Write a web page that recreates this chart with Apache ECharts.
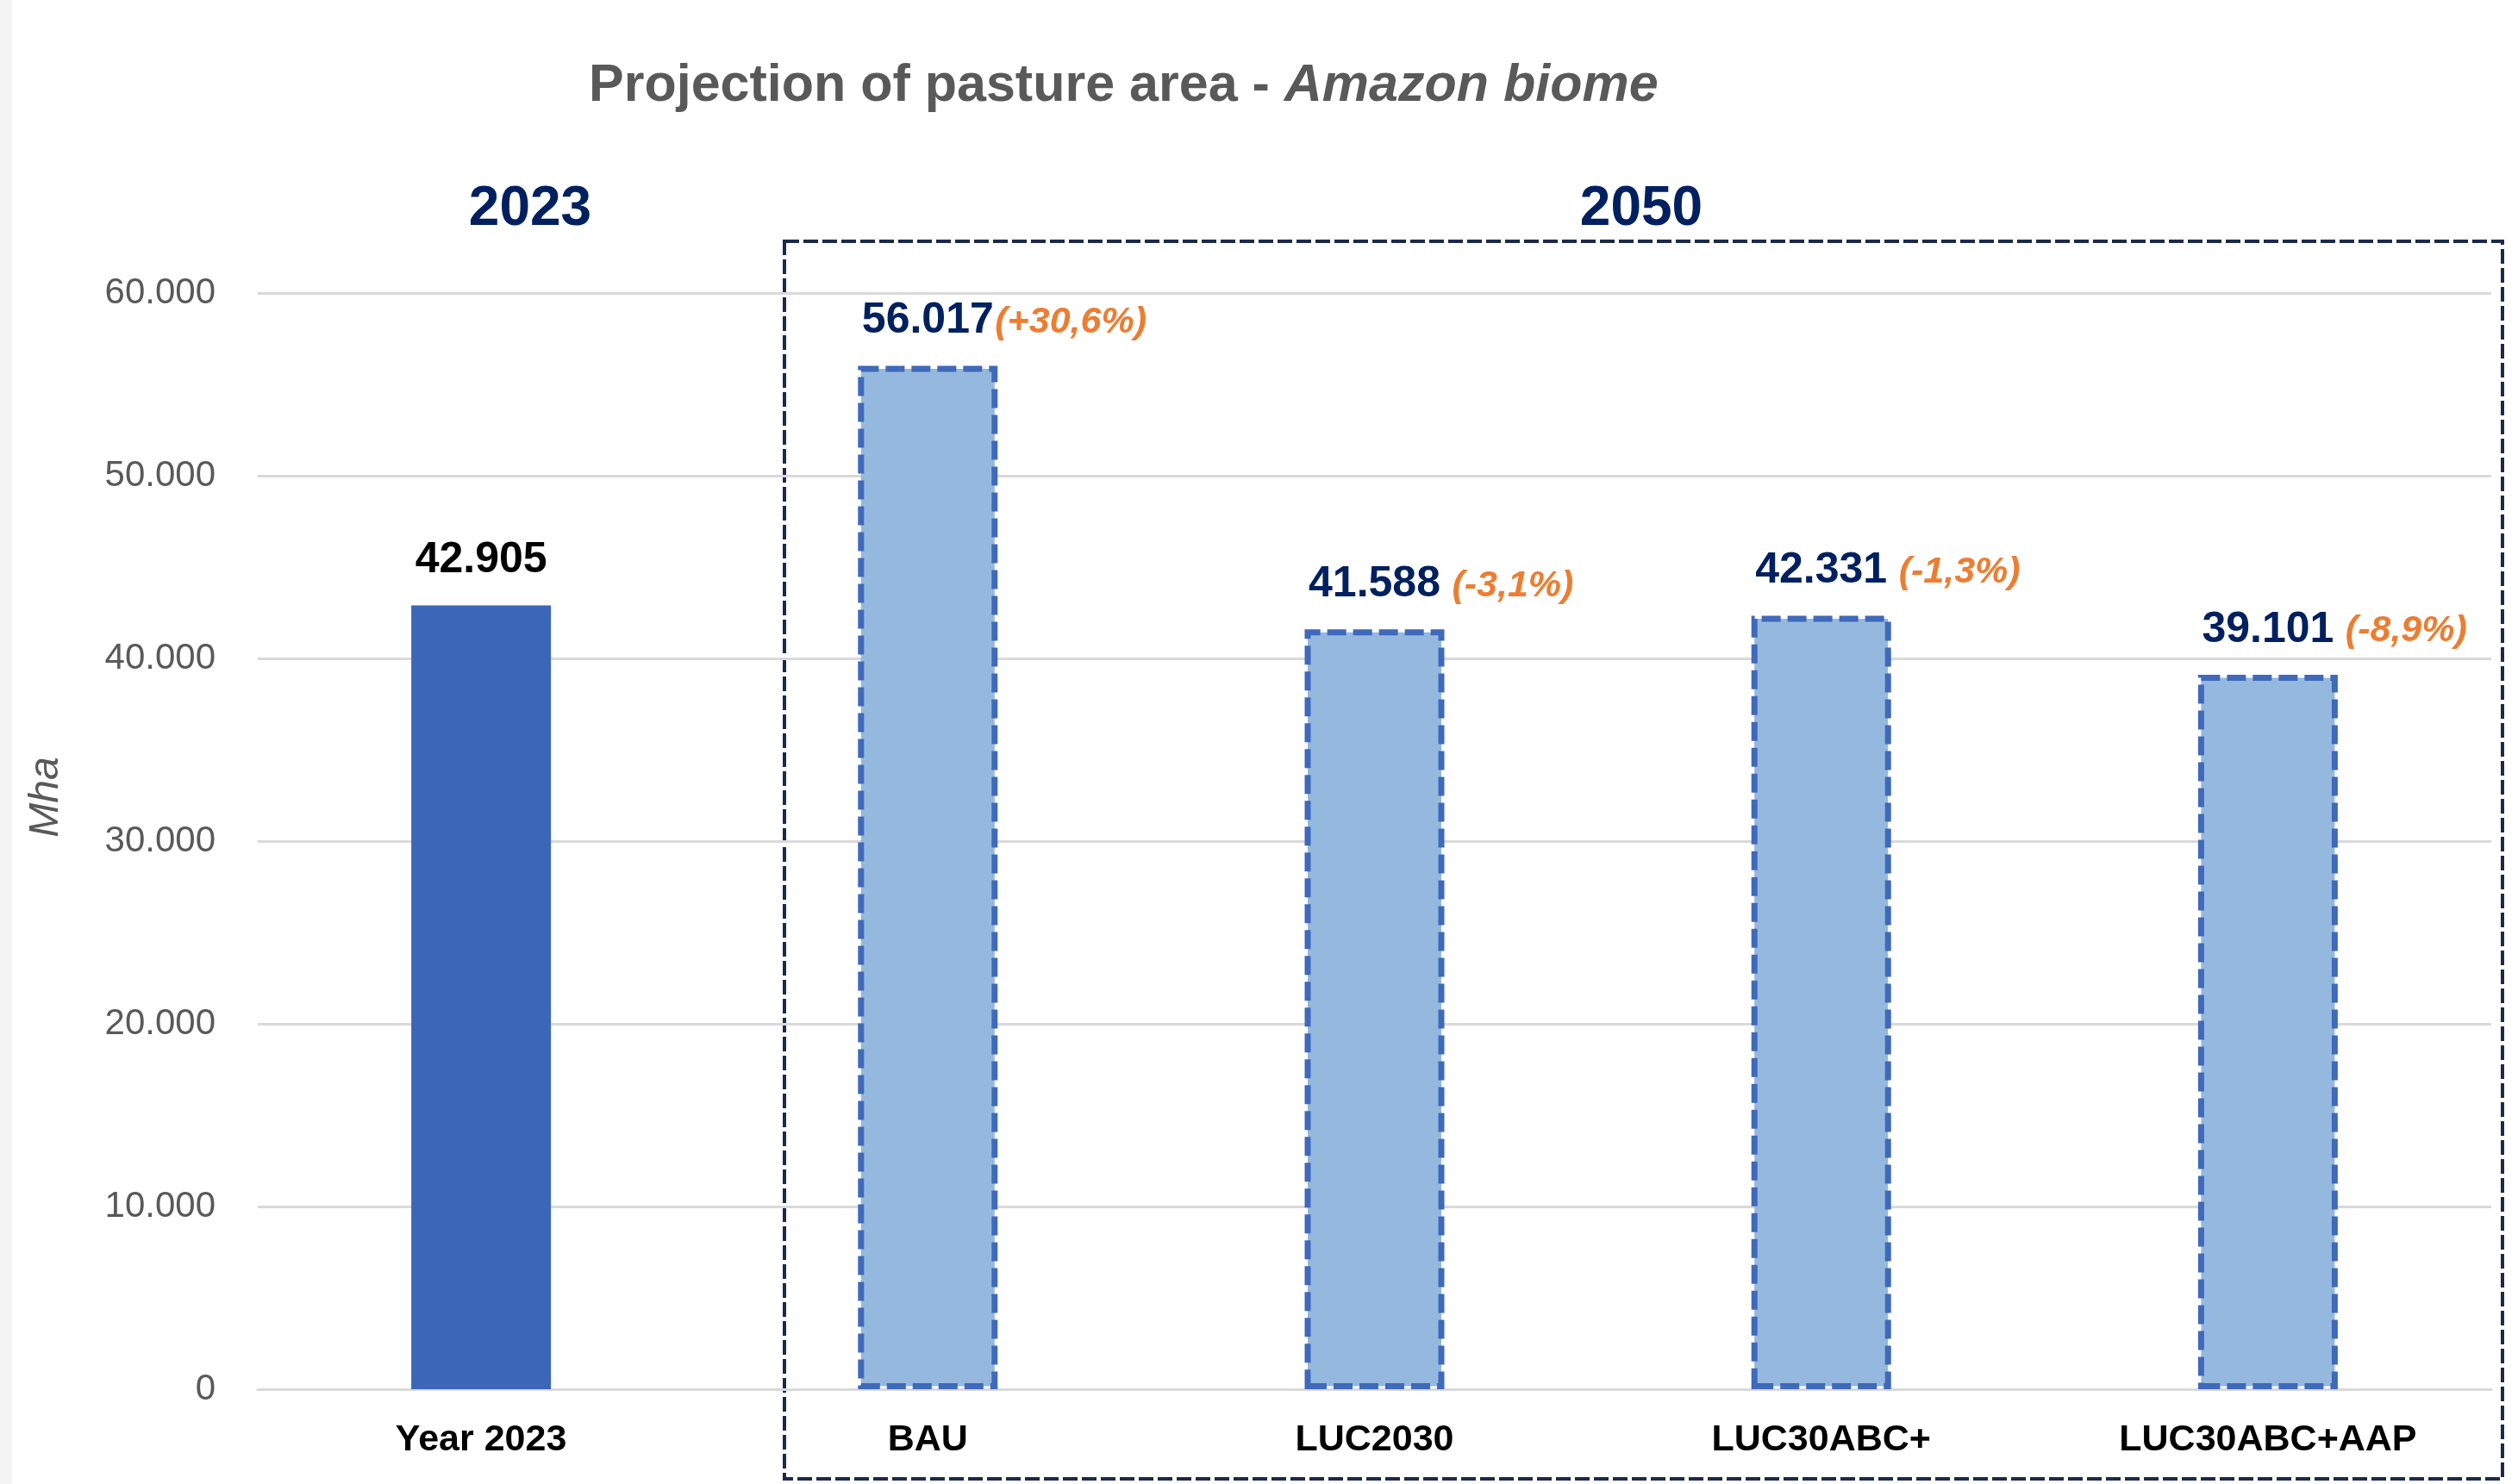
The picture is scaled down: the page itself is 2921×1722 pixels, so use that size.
<!DOCTYPE html>
<html lang="en">
<head>
    <meta charset="UTF-8">
    <title>Projection of pasture area - Amazon biome</title>
    <style>
        html, body { margin: 0; padding: 0; background: #fff; }
        #container { width: 2921px; height: 1722px; }
    </style>
</head>
<body>
<div id="container"></div>
<script src="https://cdn.jsdelivr.net/npm/echarts@6/dist/echarts.min.js"></script>
<script type="text/javascript">
    // data
    var categories = ['Year 2023', 'BAU', 'LUC2030', 'LUC30ABC+', 'LUC30ABC+AAP'];
    var pastureArea = [42905, 56017, 41588, 42331, 39101];
    var changeVs2023 = ['', '(+30,6%)', ' (-3,1%)', ' (-1,3%)', ' (-8,9%)'];
    var yMax = 60000;
    var yStep = 10000;

    var FONT = "'Liberation Sans', Arial, sans-serif";
    var NAVY = '#002060';

    function fmt(v) {
        return String(v).replace(/\B(?=(\d{3})+(?!\d))/g, '.');
    }

    var mainData = pastureArea.map(function (v, i) {
        if (i === 0) {
            return { value: v, itemStyle: { color: '#3C67B8' }, label: { color: '#000' } };
        }
        return {
            value: v,
            itemStyle: {
                color: '#95B9DE',
                borderColor: '#3F69BA',
                borderWidth: 7,
                borderType: [22, 8]
            },
            label: { color: NAVY }
        };
    });

    var chart = echarts.init(document.getElementById('container'));
    var option = {
        backgroundColor: '#fff',
        animation: false,
        title: {
            text: '{a|Projection of pasture area - }{b|Amazon biome}',
            left: 678,
            top: 65,
            textStyle: {
                rich: {
                    a: { fontSize: 61, fontWeight: 'bold', color: '#595959', fontFamily: FONT },
                    b: { fontSize: 61, fontWeight: 'bold', fontStyle: 'italic', color: '#595959', fontFamily: FONT }
                }
            }
        },
        grid: { left: 299, right: 31, top: 340, bottom: 110 },
        xAxis: {
            type: 'category',
            data: categories,
            axisTick: { show: false },
            axisLine: { lineStyle: { color: '#D9D9D9', width: 3 } },
            axisLabel: {
                margin: 38,
                color: '#000',
                fontSize: 43,
                fontWeight: 'bold',
                fontFamily: FONT
            }
        },
        yAxis: {
            type: 'value',
            min: 0,
            max: yMax,
            interval: yStep,
            axisLine: { show: false },
            axisTick: { show: false },
            splitLine: { lineStyle: { color: '#D9D9D9', width: 3 } },
            axisLabel: {
                margin: 49,
                color: '#595959',
                fontSize: 42,
                fontFamily: FONT,
                formatter: fmt
            }
        },
        series: [
            {
                type: 'bar',
                barWidth: 162,
                barGap: '-100%',
                silent: true,
                data: mainData,
                label: {
                    show: true,
                    position: 'top',
                    distance: 27,
                    fontSize: 50,
                    fontWeight: 'bold',
                    fontFamily: FONT,
                    formatter: function (p) { return fmt(p.value); }
                }
            },
            {
                type: 'bar',
                barWidth: 162,
                barGap: '-100%',
                silent: true,
                data: pastureArea,
                itemStyle: { color: 'rgba(0,0,0,0)' },
                label: {
                    show: true,
                    position: 'top',
                    distance: 29,
                    align: 'left',
                    offset: [78, 0],
                    color: '#ED7D31',
                    fontSize: 43,
                    fontWeight: 'bold',
                    fontStyle: 'italic',
                    fontFamily: FONT,
                    formatter: function (p) { return changeVs2023[p.dataIndex]; }
                }
            }
        ],
        graphic: [
            {
                type: 'rect',
                shape: { x: 0, y: 0, width: 14, height: 1722 },
                style: { fill: '#F3F3F3' },
                silent: true
            },
            {
                type: 'rect',
                shape: { x: 910, y: 280, width: 1993, height: 1436 },
                style: { fill: 'none', stroke: '#1B2A4A', lineWidth: 4, lineDash: [17, 5] },
                silent: true
            },
            {
                type: 'text',
                x: 615, y: 243,
                style: {
                    text: '2023', fill: NAVY, font: 'bold 64px ' + FONT,
                    align: 'center', verticalAlign: 'middle'
                }
            },
            {
                type: 'text',
                x: 1904, y: 243,
                style: {
                    text: '2050', fill: NAVY, font: 'bold 64px ' + FONT,
                    align: 'center', verticalAlign: 'middle'
                }
            },
            {
                type: 'text',
                x: 54, y: 925,
                rotation: Math.PI / 2,
                style: {
                    text: 'Mha', fill: '#595959', font: 'italic 48px ' + FONT,
                    align: 'center', verticalAlign: 'middle'
                }
            }
        ]
    };
    chart.setOption(option);
</script>
</body>
</html>
